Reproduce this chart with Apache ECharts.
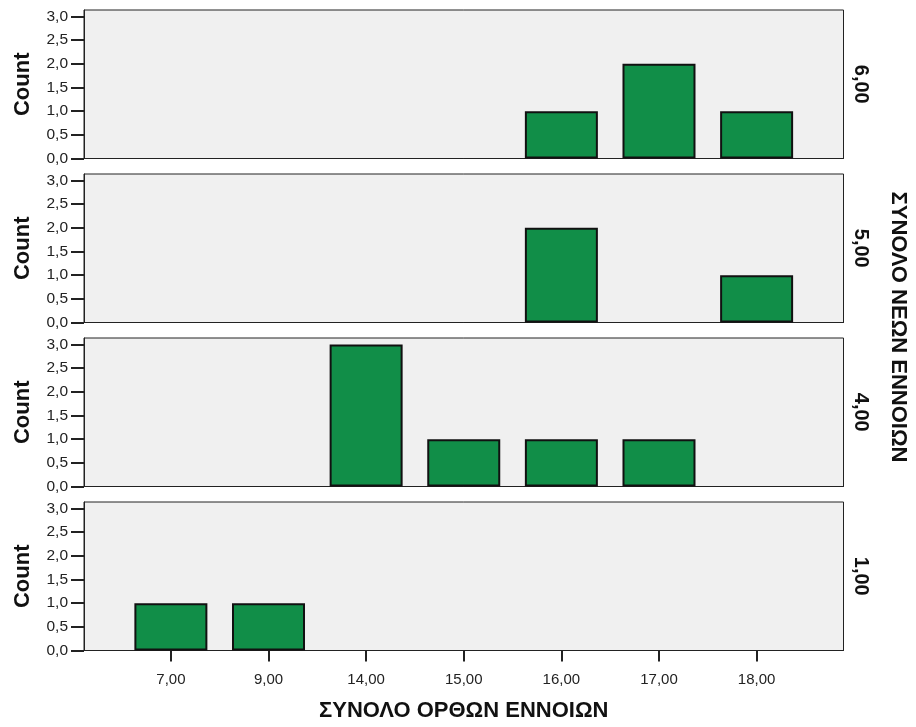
<!DOCTYPE html>
<html>
<head>
<meta charset="utf-8">
<title>ΣΥΝΟΛΟ ΟΡΘΩΝ ΕΝΝΟΙΩΝ</title>
<script src="https://cdn.jsdelivr.net/npm/echarts@6/dist/echarts.min.js"></script>
<style>
  html, body { margin: 0; padding: 0; background: #ffffff; }
  #chart { width: 916px; height: 727px; }
</style>
</head>
<body>
<div id="chart"></div>
<script>
// Score categories along the x axis
const categories = ['7,00', '9,00', '14,00', '15,00', '16,00', '17,00', '18,00'];

// Panel labels (top to bottom) for the grouping variable
const panelLabels = ['6,00', '5,00', '4,00', '1,00'];

// Counts per category for each panel
const counts600 = [0, 0, 0, 0, 1, 2, 1];
const counts500 = [0, 0, 0, 0, 2, 0, 1];
const counts400 = [0, 0, 3, 1, 1, 1, 0];
const counts100 = [1, 1, 0, 0, 0, 0, 0];

// Count axis tick values
const yTicks = [0, 0.5, 1, 1.5, 2, 2.5, 3];

const xAxisTitle = 'ΣΥΝΟΛΟ ΟΡΘΩΝ ΕΝΝΟΙΩΝ';
const panelAxisTitle = 'ΣΥΝΟΛΟ ΝΕΩΝ ΕΝΝΟΙΩΝ';
const yAxisTitle = 'Count';

const panelCounts = [counts600, counts500, counts400, counts100];

const FONT = '"Liberation Sans", Arial, Helvetica, sans-serif';
const barColor = '#118e48';
const catIdx = categories.map((_, i) => i);

const grids = [], xAxes = [], yAxes = [], series = [];
const gridTop = 10, gridStep = 164, gridH = 148.5;

panelCounts.forEach((vals, p) => {
  const last = p === panelCounts.length - 1;
  grids.push({
    left: 84, right: 72.5, top: gridTop + p * gridStep, height: gridH,
    show: true, backgroundColor: '#f0f0f0', borderColor: '#222', borderWidth: 1
  });
  xAxes.push({
    type: 'value', gridIndex: p, min: -0.89, max: 6.89,
    splitLine: { show: false },
    axisLine: { show: true, onZero: false, lineStyle: { color: '#222', width: 1 } },
    axisTick: { show: last, customValues: catIdx, length: 11, lineStyle: { color: '#222', width: 2 } },
    axisLabel: {
      show: last, customValues: catIdx, margin: 22,
      formatter: v => categories[Math.round(v)] || '',
      color: '#222', fontSize: 15, fontFamily: FONT
    },
    name: last ? xAxisTitle : '',
    nameLocation: 'middle', nameGap: 49,
    nameTextStyle: { fontSize: 22, fontWeight: 'bold', color: '#111', fontFamily: FONT }
  });
  yAxes.push({
    type: 'value', gridIndex: p, min: 0, max: 3.135,
    splitLine: { show: false },
    axisLine: { show: true, onZero: false, lineStyle: { color: '#222', width: 1 } },
    axisTick: { show: true, customValues: yTicks, length: 13, lineStyle: { color: '#222', width: 2 } },
    axisLabel: {
      customValues: yTicks,
      margin: 16, color: '#222', fontSize: 15.5, fontFamily: FONT,
      formatter: v => v.toFixed(1).replace('.', ',')
    },
    name: yAxisTitle, nameLocation: 'middle', nameGap: 50.5, nameRotate: 90,
    nameTextStyle: { fontSize: 22, fontWeight: 'bold', color: '#111', fontFamily: FONT }
  });
  // Right-hand axis only carries the panel label
  yAxes.push({
    type: 'value', gridIndex: p, position: 'right', min: 0, max: 3.135,
    axisLine: { show: false, onZero: false }, axisTick: { show: false }, axisLabel: { show: false },
    splitLine: { show: false },
    name: panelLabels[p], nameLocation: 'middle', nameGap: 7, nameRotate: -90,
    nameTextStyle: { fontSize: 20, fontWeight: 'bold', color: '#111', fontFamily: FONT }
  });
  series.push({
    type: 'bar', xAxisIndex: p, yAxisIndex: p * 2,
    barWidth: 73,
    data: vals.map((v, i) => [i, v]).filter(d => d[1] > 0),
    itemStyle: { color: barColor, borderColor: '#111', borderWidth: 2 },
    emphasis: { disabled: true },
    silent: true
  });
});

const chart = echarts.init(document.getElementById('chart'), null, { renderer: 'canvas' });
chart.setOption({
  animation: false,
  backgroundColor: '#ffffff',
  grid: grids,
  xAxis: xAxes,
  yAxis: yAxes,
  series: series,
  graphic: [{
    type: 'text',
    x: 898, y: 327,
    rotation: -Math.PI / 2,
    style: {
      text: panelAxisTitle, fontSize: 22, fontWeight: 'bold', fill: '#111',
      fontFamily: FONT, align: 'center', verticalAlign: 'middle'
    }
  }]
});
</script>
</body>
</html>
